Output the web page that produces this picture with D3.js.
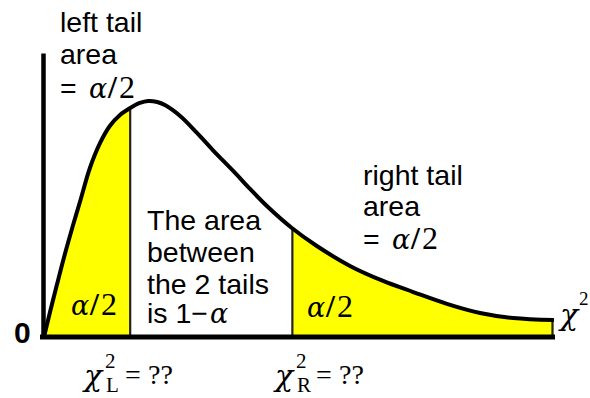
<!DOCTYPE html>
<html>
<head>
<meta charset="utf-8">
<script src="https://cdn.jsdelivr.net/npm/d3@7"></script>
<style>
  body { margin: 0; background: #fff; }
  svg { display: block; }
  .sans { font-family: "Liberation Sans", Arial, Helvetica, sans-serif; font-size: 28.5px; fill: #000; }
  .serif { font-family: "Liberation Serif", "Times New Roman", serif; fill: #000; }
  .greek { font-family: "DejaVu Serif", serif; font-style: italic; fill: #000; }
</style>
</head>
<body>
<div id="chart"></div>
<script>
// chi-square curve (x in chi^2 units, y = density)
var chiVals = [0, 0.118, 0.255, 0.41, 0.57, 0.71, 0.90, 1.10, 1.29, 1.49, 1.69, 1.88, 2.04, 2.22, 2.37, 2.67, 3.0, 3.31, 3.71, 4.04, 4.37, 4.86, 5.35, 6.0, 6.65, 7.24, 7.9, 8.55, 9.2, 10];
var densityVals = [0, 0.0195, 0.041, 0.0646, 0.0872, 0.1058, 0.1315, 0.151, 0.1642, 0.1728, 0.1782, 0.1821, 0.1837, 0.1829, 0.1805, 0.172, 0.1588, 0.1455, 0.1292, 0.1152, 0.1019, 0.0848, 0.0708, 0.0553, 0.0436, 0.035, 0.0258, 0.0187, 0.0148, 0.0132];

// critical values (left, right)
var cutoffs = [1.69, 4.87];

var leftLabel = ["left tail", "area"];
var rightLabel = ["right tail", "area"];
var middleLabel = ["The area", "between", "the 2 tails"];

var width = 590,
    height = 398;

var data = chiVals.map(function(d, i) { return {x: d, y: densityVals[i]}; });

var x = d3.scaleLinear()
  .domain([0, 10])
  .range([44, 554]);

var y = d3.scaleLinear()
  .domain([0, 0.221])
  .range([337, 53]);

var svg = d3.select("#chart")
  .append("svg")
  .attr("width", width)
  .attr("height", height);

var area = d3.area()
  .x(function(d) { return x(d.x); })
  .y0(y(0))
  .y1(function(d) { return y(d.y); })
  .curve(d3.curveCatmullRom);

var line = d3.line()
  .x(function(d) { return x(d.x); })
  .y(function(d) { return y(d.y); })
  .curve(d3.curveCatmullRom);

// clip everything under the curve
svg.append("clipPath")
  .attr("id", "under")
  .append("path")
  .attr("d", area(data));

var under = svg.append("g").attr("clip-path", "url(#under)");

// yellow tails
var tails = [[0, cutoffs[0]], [cutoffs[1], 10]];
under.selectAll(".tail")
  .data(tails)
  .enter().append("rect")
  .attr("class", "tail")
  .attr("x", function(d) { return x(d[0]); })
  .attr("width", function(d) { return x(d[1]) - x(d[0]); })
  .attr("y", y.range()[1])
  .attr("height", y(0) - y.range()[1])
  .style("fill", "#ffff00");

// vertical lines at the cutoffs and the end of the curve
under.selectAll(".cut")
  .data(cutoffs.concat([x.domain()[1] - 0.03]))
  .enter().append("line")
  .attr("class", "cut")
  .attr("x1", function(d) { return x(d); })
  .attr("x2", function(d) { return x(d); })
  .attr("y1", y.range()[1])
  .attr("y2", y(0))
  .style("stroke", "#222")
  .style("stroke-width", 2.2);

svg.append("path")
  .attr("d", line(data))
  .style("fill", "none")
  .style("stroke", "#000")
  .style("stroke-width", 4);

// axes, no ticks
svg.append("g")
  .attr("transform", "translate(0," + y(0) + ")")
  .call(d3.axisBottom(x).tickValues([]).tickSizeOuter(0))
  .call(function(g) { g.select(".domain").style("stroke", "#000").style("stroke-width", 5).attr("d", "M40,0H555"); });

svg.append("g")
  .attr("transform", "translate(" + 43 + ",0)")
  .call(d3.axisLeft(y).tickValues([]).tickSizeOuter(0))
  .call(function(g) { g.select(".domain").style("stroke", "#000").style("stroke-width", 4.5); });

// text
function lines(arr, x0, y0, step) {
  svg.selectAll(null)
    .data(arr)
    .enter().append("text")
    .attr("class", "sans")
    .attr("x", x0)
    .attr("y", function(d, i) { return y0 + i * step; })
    .text(function(d) { return d; });
}

lines(leftLabel, 60, 32, 32);
lines(rightLabel, 363, 185, 31);
lines(middleLabel, 147, 230, 32);

var last = svg.append("text").attr("class", "sans").attr("x", 147).attr("y", 323);
last.append("tspan").text("is 1\u2212");
last.append("tspan").attr("class", "greek").attr("dx", 2).style("font-size", "27px").text("\u03b1");

function alphaHalf(x0, y0, withEq) {
  if (withEq) svg.append("text").attr("class", "sans").attr("x", x0 - 29).attr("y", y0).text("=");
  var t = svg.append("text").attr("class", "serif").attr("y", y0).style("font-size", "32px");
  t.append("tspan").attr("class", "greek").attr("x", x0).style("font-size", "27px").text("\u03b1");
  t.append("tspan").attr("x", x0 + 19).style("font-weight", "bold").text("/");
  t.append("tspan").attr("x", x0 + 30).text("2");
}

alphaHalf(89, 98, true);
alphaHalf(392, 249, true);
alphaHalf(71, 315, false);
alphaHalf(307, 317, false);

svg.append("text").attr("class", "sans")
  .attr("x", 14).attr("y", 343)
  .style("font-weight", "bold").style("font-size", "30px")
  .text("0");

function chiLabel(x0, sub) {
  svg.append("text").attr("class", "greek").attr("x", x0).attr("y", 386)
    .style("font-size", "30px").text("\u03c7");
  svg.append("text").attr("class", "serif").attr("x", x0 + 21).attr("y", 368)
    .style("font-size", "21px").text("2");
  svg.append("text").attr("class", "serif").attr("x", x0 + 22).attr("y", 392)
    .style("font-size", "21px").text(sub);
  svg.append("text").attr("class", "serif").attr("x", x0 + 41).attr("y", 384)
    .style("font-size", "28px").text("=");
  svg.append("text").attr("class", "serif").attr("x", x0 + 64).attr("y", 384)
    .style("font-size", "28px").text("??");
}

chiLabel(84, "L");
chiLabel(275, "R");

svg.append("text").attr("class", "greek").attr("x", 560).attr("y", 325)
  .style("font-size", "30px").text("\u03c7");
svg.append("text").attr("class", "serif").attr("x", 579).attr("y", 305)
  .style("font-size", "19px").text("2");
</script>
</body>
</html>
